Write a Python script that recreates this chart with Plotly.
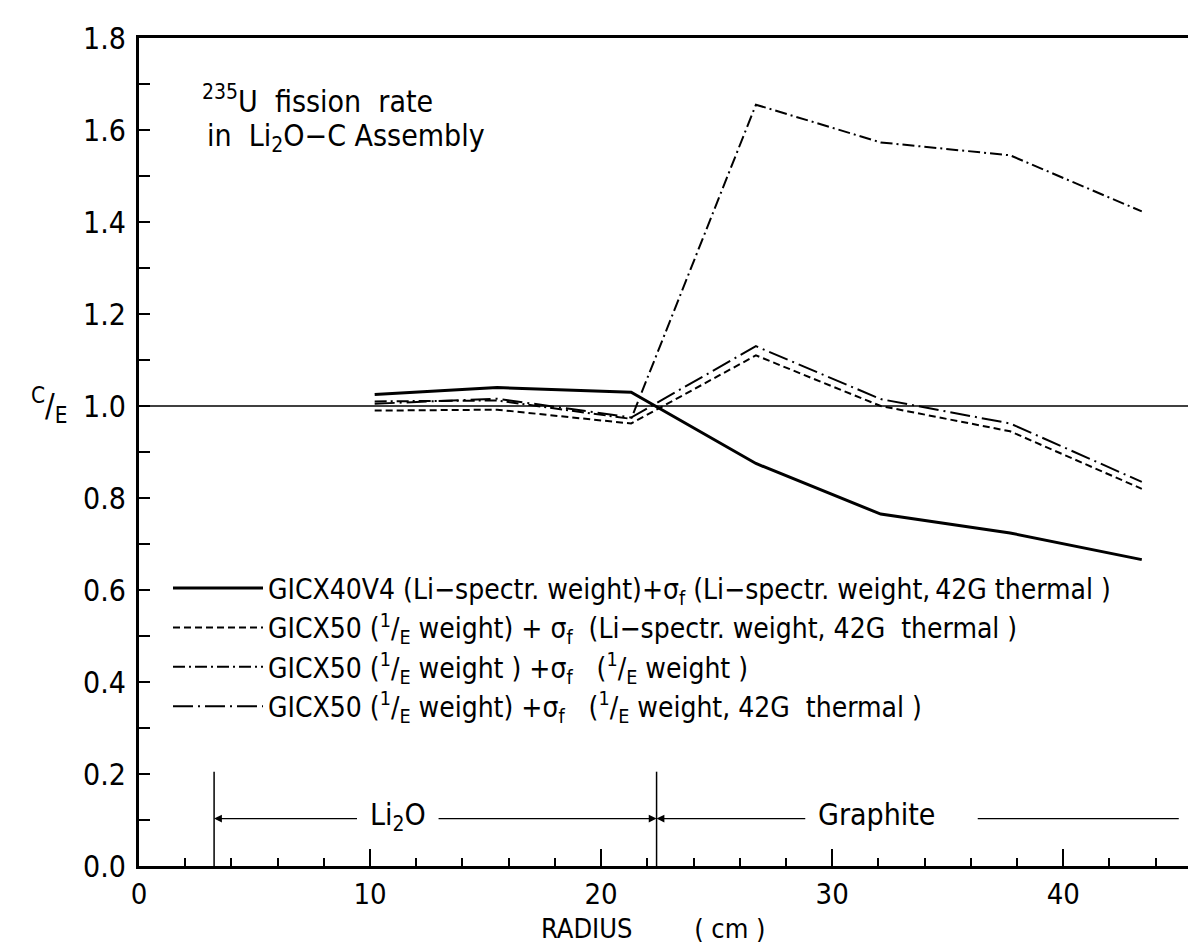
import plotly.graph_objects as go

# ---- data ----
radius = [10.2, 15.5, 21.3, 26.7, 32.1, 37.7, 43.4]
ce_gicx40v4 = [1.025, 1.040, 1.030, 0.875, 0.765, 0.724, 0.666]
ce_gicx50_li = [0.990, 0.992, 0.962, 1.110, 1.000, 0.945, 0.820]
ce_gicx50_1e = [1.010, 1.012, 0.972, 1.655, 1.573, 1.545, 1.423]
ce_gicx50_1e42 = [1.005, 1.016, 0.975, 1.130, 1.015, 0.962, 0.835]

series_names = [
    "GICX40V4 (Li\u2212spectr. weight)+\u03c3<sub>f</sub> (Li\u2212spectr. weight,\u200942G thermal )",
    "GICX50 (<sup>1</sup>/<sub>E</sub> weight) + \u03c3<sub>f</sub> \u00a0(Li\u2212spectr. weight, 42G \u00a0thermal )",
    "GICX50 (<sup>1</sup>/<sub>E</sub> weight ) +\u03c3<sub>f</sub> \u00a0 (<sup>1</sup>/<sub>E</sub> weight )",
    "GICX50 (<sup>1</sup>/<sub>E</sub> weight) +\u03c3<sub>f</sub> \u00a0 (<sup>1</sup>/<sub>E</sub> weight, 42G \u00a0thermal )",
]
series_values = [ce_gicx40v4, ce_gicx50_li, ce_gicx50_1e, ce_gicx50_1e42]
series_dash = ["solid", "7px,4px", "12px,4px,2px,4px", "20px,5px,2px,5px"]
series_width = [3, 2, 2, 2]

x_range = [0, 45.4]
y_range = [0, 1.8]
li2o_boundary = 3.25
graphite_boundary = 22.4

FONT = "Liberation Sans Narrow, DejaVu Sans Condensed, Roboto, sans-serif"

fig = go.Figure()
for name, vals, dash, w in zip(series_names, series_values, series_dash, series_width):
    fig.add_trace(go.Scatter(x=radius, y=vals, mode="lines", name=name,
                             line=dict(color="black", width=w, dash=dash)))

# reference line at C/E = 1
fig.add_shape(type="line", xref="paper", yref="y", x0=0, x1=1, y0=1.0, y1=1.0,
              line=dict(color="black", width=1.5))
# region boundaries
for xb in (li2o_boundary, graphite_boundary):
    fig.add_shape(type="line", xref="x", yref="y", x0=xb, x1=xb, y0=0, y1=0.205,
                  line=dict(color="black", width=1.5))

arrow_y = 0.103
# Li2O arrows
fig.add_annotation(x=li2o_boundary, y=arrow_y, ax=9.5, ay=arrow_y, xref="x", yref="y",
                   axref="x", ayref="y", text="", showarrow=True, arrowhead=2,
                   arrowsize=1.2, arrowwidth=1.3, arrowcolor="black")
fig.add_annotation(x=graphite_boundary, y=arrow_y, ax=12.9, ay=arrow_y, xref="x", yref="y",
                   axref="x", ayref="y", text="", showarrow=True, arrowhead=2,
                   arrowsize=1.2, arrowwidth=1.3, arrowcolor="black")
fig.add_annotation(x=11.2, y=arrow_y + 0.005, xref="x", yref="y", text="Li<sub>2</sub>O",
                   showarrow=False, font=dict(size=30, family=FONT, color="black"))
# Graphite arrows
fig.add_annotation(x=graphite_boundary, y=arrow_y, ax=28.9, ay=arrow_y, xref="x", yref="y",
                   axref="x", ayref="y", text="", showarrow=True, arrowhead=2,
                   arrowsize=1.2, arrowwidth=1.3, arrowcolor="black")
fig.add_shape(type="line", xref="x", yref="y", x0=36.3, x1=45.0, y0=arrow_y, y1=arrow_y,
              line=dict(color="black", width=1.3))
fig.add_annotation(x=31.9, y=arrow_y + 0.008, xref="x", yref="y", text="Graphite",
                   showarrow=False, font=dict(size=30, family=FONT, color="black"))

# title block
fig.add_annotation(x=(192 - 131) / 1049, y=(858 - 83) / 837, xref="paper", yref="paper",
                   xanchor="left", yanchor="middle", showarrow=False,
                   text="<sup>235</sup>U \u00a0fission \u00a0rate",
                   font=dict(size=30, family=FONT, color="black"))
fig.add_annotation(x=(197 - 131) / 1049, y=(858 - 122) / 837, xref="paper", yref="paper",
                   xanchor="left", yanchor="middle", showarrow=False,
                   text="in \u00a0Li<sub>2</sub>O\u2212C Assembly",
                   font=dict(size=30, family=FONT, color="black"))
# y-axis label
fig.add_annotation(x=-90 / 1049, y=(858 - 392) / 837, xref="paper", yref="paper",
                   xanchor="center", yanchor="middle", showarrow=False,
                   text="<sup>C</sup>/<sub>E</sub>",
                   font=dict(size=32, family=FONT, color="black"))
# x-axis title
fig.add_annotation(x=(645 - 131) / 1049, y=-(921 - 858) / 837, xref="paper", yref="paper",
                   xanchor="center", yanchor="middle", showarrow=False,
                   text="RADIUS \u00a0\u00a0\u00a0\u00a0\u00a0\u00a0 ( cm )",
                   font=dict(size=27, family=FONT, color="black"))

fig.update_layout(
    width=1196, height=945,
    margin=dict(l=131, r=16, t=21, b=87),
    paper_bgcolor="white", plot_bgcolor="white",
    font=dict(family=FONT, color="black", size=28),
    showlegend=True,
    legend=dict(x=(160 - 131) / 1049, y=(858 - 552) / 837, xanchor="left", yanchor="top",
                bgcolor="rgba(0,0,0,0)", itemwidth=90, tracegroupgap=0,
                font=dict(size=28, family=FONT, color="black")),
    xaxis=dict(range=x_range, showgrid=False, zeroline=False,
               showline=True, linewidth=2.5, linecolor="black", mirror=True,
               ticks="inside", ticklen=17, tickwidth=2, tickcolor="black",
               tickmode="linear", tick0=0, dtick=10,
               minor=dict(ticks="inside", ticklen=8, tickwidth=1.5, dtick=2, tickcolor="black"),
               tickfont=dict(size=29, family=FONT)),
    yaxis=dict(range=y_range, showgrid=False, zeroline=False,
               showline=True, linewidth=3, linecolor="black", mirror=False,
               ticks="inside", ticklen=11, tickwidth=1.5, tickcolor="black",
               tickmode="linear", tick0=0, dtick=0.2, tickformat=".1f",
               minor=dict(ticks="inside", ticklen=11, tickwidth=1.5, dtick=0.1, tickcolor="black"),
               tickfont=dict(size=30, family=FONT), ticklabelstandoff=4),
)

fig.write_html("out.html")
